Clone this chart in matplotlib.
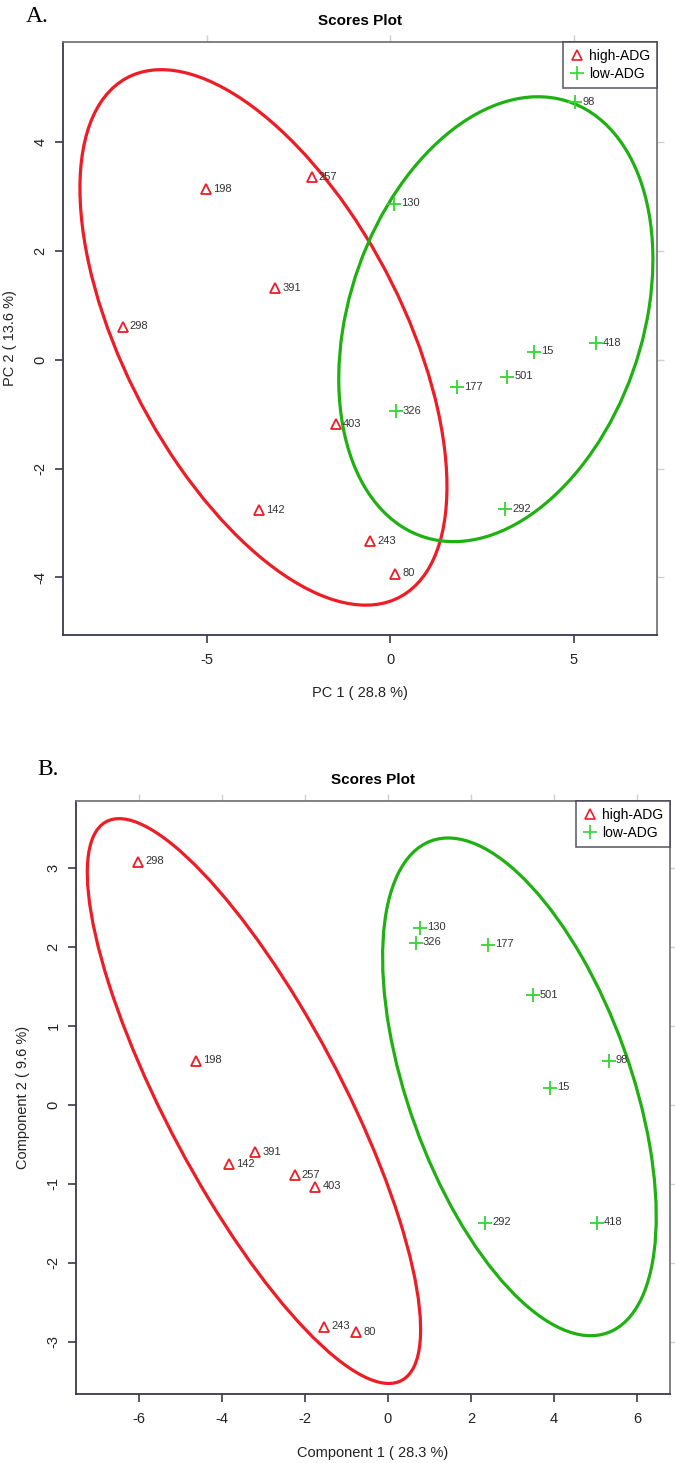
import matplotlib
matplotlib.use("Agg")
from matplotlib import pyplot as plt
from matplotlib.patches import Ellipse
from matplotlib.lines import Line2D

plt.rcParams['font.family'] = ['Liberation Sans', 'DejaVu Sans']

# Panel A: PCA scores
a_high_ids = ['257', '198', '391', '298', '403', '142', '243', '80']
a_high_x = [-2.13, -5.01, -3.13, -7.28, -1.47, -3.57, -0.54, 0.14]
a_high_y = [3.35, 3.13, 1.31, 0.60, -1.19, -2.77, -3.34, -3.93]
a_low_ids = ['130', '98', '15', '418', '501', '177', '326', '292']
a_low_x = [0.11, 5.04, 3.92, 5.61, 3.19, 1.83, 0.16, 3.13]
a_low_y = [2.86, 4.73, 0.14, 0.30, -0.32, -0.51, -0.95, -2.75]
# ellipses: centre x, centre y, width, height, angle
a_high_ell = [-3.45, 0.41, 12.38, 6.6, -44.2]
a_low_ell = [2.88, 0.745, 9.44, 7.14, 40.2]

# Panel B: PLS-DA scores
b_high_ids = ['298', '198', '391', '142', '257', '403', '243', '80']
b_high_x = [-6.02, -4.63, -3.20, -3.82, -2.25, -1.75, -1.54, -0.76]
b_high_y = [3.08, 0.56, -0.60, -0.75, -0.89, -1.04, -2.81, -2.88]
b_low_ids = ['130', '326', '177', '501', '98', '15', '292', '418']
b_low_x = [0.77, 0.67, 2.42, 3.50, 5.33, 3.90, 2.34, 5.04]
b_low_y = [2.24, 2.05, 2.03, 1.39, 0.56, 0.22, -1.49, -1.49]
b_high_ell = [-3.23, 0.05, 10.24, 3.3, -40.9]
b_low_ell = [3.17, 0.23, 7.96, 4.46, -42.5]

RED = '#ee1c25'
GREEN_PT = '#33d633'
GREEN_LN = '#1fb012'
DARK = '#3a3a48'


def scores(ax, hx, hy, hid, lx, ly, lid, hell, lell, xlim, ylim, xt, yt, xlab, ylab):
    for e, c in ((hell, RED), (lell, GREEN_LN)):
        ax.add_patch(Ellipse((e[0], e[1]), e[2], e[3], angle=e[4], fill=False,
                             edgecolor=c, lw=2.3))
    ax.plot(hx, hy, ls='none', marker='^', mfc='none', mec=RED, ms=7, mew=1.3)
    ax.plot(lx, ly, ls='none', marker='+', color=GREEN_PT, ms=9.5, mew=1.3)
    for x, y, s in list(zip(hx, hy, hid)) + list(zip(lx, ly, lid)):
        ax.annotate(s, (x, y), xytext=(5, 0.5), textcoords='offset points',
                    va='center', ha='left', fontsize=8, color='#333333')
    ax.set_xlim(xlim)
    ax.set_ylim(ylim)
    ax.set_xticks(xt)
    ax.set_yticks(yt)
    ax.set_yticklabels([str(v) for v in yt], rotation=90, va='center')
    ax.set_xticklabels([str(v) for v in xt])
    ax.tick_params(length=6, width=1.2, color=DARK, labelsize=10.5,
                   labelcolor='#222222', pad=7)
    ax.tick_params(axis='y', pad=5)
    for side in ('left', 'bottom'):
        ax.spines[side].set_color(DARK)
        ax.spines[side].set_linewidth(1.3)
    for side in ('top', 'right'):
        ax.spines[side].set_color('#777777')
        ax.spines[side].set_linewidth(1.3)
    top = ax.secondary_xaxis('top')
    top.set_xticks(xt)
    top.set_xticklabels([])
    top.tick_params(length=5, width=1, color='#d0d0d0')
    top.spines['top'].set_visible(False)
    right = ax.secondary_yaxis('right')
    right.set_yticks(yt)
    right.set_yticklabels([])
    right.tick_params(length=5, width=1, color='#d0d0d0')
    right.spines['right'].set_visible(False)
    ax.set_xlabel(xlab, fontsize=10.5, color='#222222', labelpad=14)
    ax.set_ylabel(ylab, fontsize=10.5, color='#222222', labelpad=12)
    ax.set_title('Scores Plot', fontsize=11, fontweight='bold', pad=12)
    handles = [Line2D([], [], ls='none', marker='^', mfc='none', mec=RED, ms=6.5, mew=1.2),
               Line2D([], [], ls='none', marker='+', color=GREEN_PT, ms=9.5, mew=1.2)]
    leg = ax.legend(handles, ['high-ADG', 'low-ADG'], loc='upper right',
                    fontsize=10, frameon=True, fancybox=False, borderaxespad=0,
                    handletextpad=0.3, handlelength=1.1, borderpad=0.5,
                    labelspacing=0.3, edgecolor=DARK)
    leg.get_frame().set_linewidth(1.2)


fig = plt.figure(figsize=(6.75, 14.63), dpi=100)

ax1 = fig.add_axes([63 / 675, 1 - 635 / 1463, 594 / 675, 593 / 1463])
scores(ax1, a_high_x, a_high_y, a_high_ids, a_low_x, a_low_y, a_low_ids,
       a_high_ell, a_low_ell, (-8.91, 7.27), (-5.06, 5.84),
       [-5, 0, 5], [-4, -2, 0, 2, 4], 'PC 1 ( 28.8 %)', 'PC 2 ( 13.6 %)')

ax2 = fig.add_axes([76 / 675, 1 - 1394 / 1463, 594 / 675, 593 / 1463])
scores(ax2, b_high_x, b_high_y, b_high_ids, b_low_x, b_low_y, b_low_ids,
       b_high_ell, b_low_ell, (-7.52, 6.8), (-3.66, 3.85),
       [-6, -4, -2, 0, 2, 4, 6], [-3, -2, -1, 0, 1, 2, 3],
       'Component 1 ( 28.3 %)', 'Component 2 ( 9.6 %)')

fig.text(26 / 675, 1 - 22 / 1463, 'A.', family='Liberation Serif', fontsize=17)
fig.text(37 / 675, 1 - 775 / 1463, 'B.', family='Liberation Serif', fontsize=17)

fig.savefig('out.png', dpi=100)
